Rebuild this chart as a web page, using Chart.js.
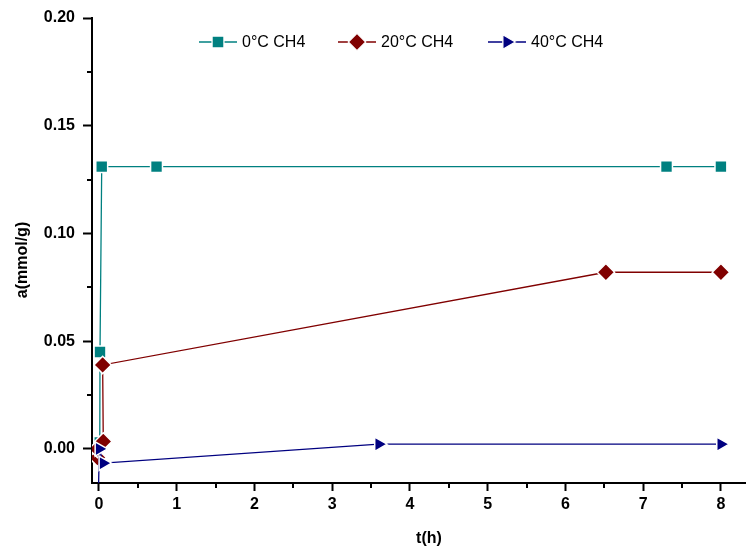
<!DOCTYPE html>
<html>
<head>
<meta charset="utf-8">
<script src="https://cdn.jsdelivr.net/npm/chart.js@4/dist/chart.umd.min.js"></script>
<style>
  html, body { margin: 0; padding: 0; background: #fff; }
  #wrap { width: 756px; height: 552px; position: relative; }
</style>
</head>
<body>
<div id="wrap"><canvas id="adsChart"></canvas></div>
<script>
// Dados (t em horas, a em mmol/g)
const seriesNames = ['0°C CH4', '20°C CH4', '40°C CH4'];
const t0 = [0.01, 0.013, 0.035, 0.74, 7.3, 8];
const a0 = [0.003, 0.045, 0.131, 0.131, 0.131, 0.131];
const t20 = [-0.02, -0.02, 0.055, 0.047, 6.52, 8];
const a20 = [-0.004, 0.000, 0.0035, 0.039, 0.082, 0.082];
const t40 = [-0.01, 0.004, 0.055, 3.6, 8];
const a40 = [-0.025, 0.000, -0.0066, 0.0022, 0.0022];

const xMajor = [0, 1, 2, 3, 4, 5, 6, 7, 8];
const xMinor = [0.5, 1.5, 2.5, 3.5, 4.5, 5.5, 6.5, 7.5];
const yMajor = [0.00, 0.05, 0.10, 0.15, 0.20];
const yMinor = [0.025, 0.075, 0.125, 0.175];

const colors = ['#008080', '#800000', '#000080'];
const styles = [
    { pointStyle: 'rect', radius: 8.4, rotation: 0 },
    { pointStyle: 'rectRot', radius: 8.7, rotation: 0 },
    { pointStyle: 'triangle', radius: 8.3, rotation: 90 }
];

const toPoints = (xs, ys) => xs.map((x, i) => ({ x: x, y: ys[i] }));

function makeDataset(idx, xs, ys) {
    return {
        label: seriesNames[idx],
        data: toPoints(xs, ys),
        borderColor: colors[idx],
        backgroundColor: colors[idx],
        borderWidth: 1.3,
        pointStyle: styles[idx].pointStyle,
        pointRadius: styles[idx].radius,
        pointRotation: styles[idx].rotation,
        pointBackgroundColor: colors[idx],
        pointBorderColor: '#ffffff',
        pointBorderWidth: 1.5,
        tension: 0,
        order: 3 - idx
    };
}

const font = 'Liberation Sans, Arial, sans-serif';

// Ticks menores, títulos dos eixos e legenda
const extrasPlugin = {
    id: 'extras',
    afterDraw(chart) {
        const ctx = chart.ctx;
        const xs = chart.scales.x;
        const ys = chart.scales.y;
        const area = chart.chartArea;
        ctx.save();
        ctx.strokeStyle = '#000';
        ctx.lineWidth = 2;
        ctx.beginPath();
        xMinor.forEach(v => {
            const px = Math.round(xs.getPixelForValue(v));
            ctx.moveTo(px, area.bottom);
            ctx.lineTo(px, area.bottom + 5);
        });
        yMinor.forEach(v => {
            const py = Math.round(ys.getPixelForValue(v));
            ctx.moveTo(area.left, py);
            ctx.lineTo(area.left - 5, py);
        });
        ctx.stroke();

        // Títulos dos eixos
        ctx.fillStyle = '#000';
        ctx.font = 'bold 16px ' + font;
        ctx.textAlign = 'center';
        ctx.textBaseline = 'middle';
        ctx.fillText('t(h)', 429, 539);
        ctx.translate(23, 260);
        ctx.rotate(-Math.PI / 2);
        ctx.fillText('a(mmol/g)', 0, 0);
        ctx.restore();

        // Legenda
        const legendX = [199, 338, 488];
        const legendY = 42;
        ctx.save();
        ctx.font = '16px ' + font;
        ctx.textAlign = 'left';
        ctx.textBaseline = 'middle';
        legendX.forEach((lx, i) => {
            ctx.strokeStyle = colors[i];
            ctx.lineWidth = 1.3;
            ctx.beginPath();
            ctx.moveTo(lx, legendY);
            ctx.lineTo(lx + 38, legendY);
            ctx.stroke();
            ctx.fillStyle = colors[i];
            ctx.strokeStyle = '#ffffff';
            Chart.helpers.drawPoint(ctx, {
                pointStyle: styles[i].pointStyle,
                radius: styles[i].radius,
                rotation: styles[i].rotation,
                borderWidth: 1.5
            }, lx + 19, legendY);
            ctx.fillStyle = '#000';
            ctx.fillText(seriesNames[i], lx + 43, legendY + 1);
        });
        ctx.restore();
    }
};

const ctx = document.getElementById('adsChart');
new Chart(ctx, {
    type: 'line',
    data: {
        datasets: [
            makeDataset(0, t0, a0),
            makeDataset(1, t20, a20),
            makeDataset(2, t40, a40)
        ]
    },
    options: {
        responsive: true,
        maintainAspectRatio: false,
        animation: false,
        layout: { padding: { top: 18, right: 0, left: 0, bottom: 0 } },
        plugins: {
            legend: { display: false },
            tooltip: { enabled: false }
        },
        scales: {
            x: {
                type: 'linear',
                min: -0.09,
                max: 8.32,
                afterFit: s => { s.height = 69; },
                afterBuildTicks: s => { s.ticks = xMajor.map(v => ({ value: v })); },
                border: { display: true, color: '#000', width: 2 },
                grid: { drawOnChartArea: false, drawTicks: true, tickLength: 8, tickWidth: 2, tickColor: '#000' },
                ticks: {
                    color: '#000',
                    padding: 4,
                    font: { family: font, size: 16, weight: 'bold' },
                    callback: v => String(v)
                }
            },
            y: {
                type: 'linear',
                min: -0.0158,
                max: 0.2,
                afterFit: s => { s.width = 92; },
                afterBuildTicks: s => { s.ticks = yMajor.map(v => ({ value: v })); },
                border: { display: true, color: '#000', width: 2 },
                grid: { drawOnChartArea: false, drawTicks: true, tickLength: 9, tickWidth: 2, tickColor: '#000' },
                ticks: {
                    color: '#000',
                    padding: 8,
                    font: { family: font, size: 16, weight: 'bold' },
                    callback: v => v.toFixed(2)
                }
            }
        }
    },
    plugins: [extrasPlugin]
});
</script>
</body>
</html>
